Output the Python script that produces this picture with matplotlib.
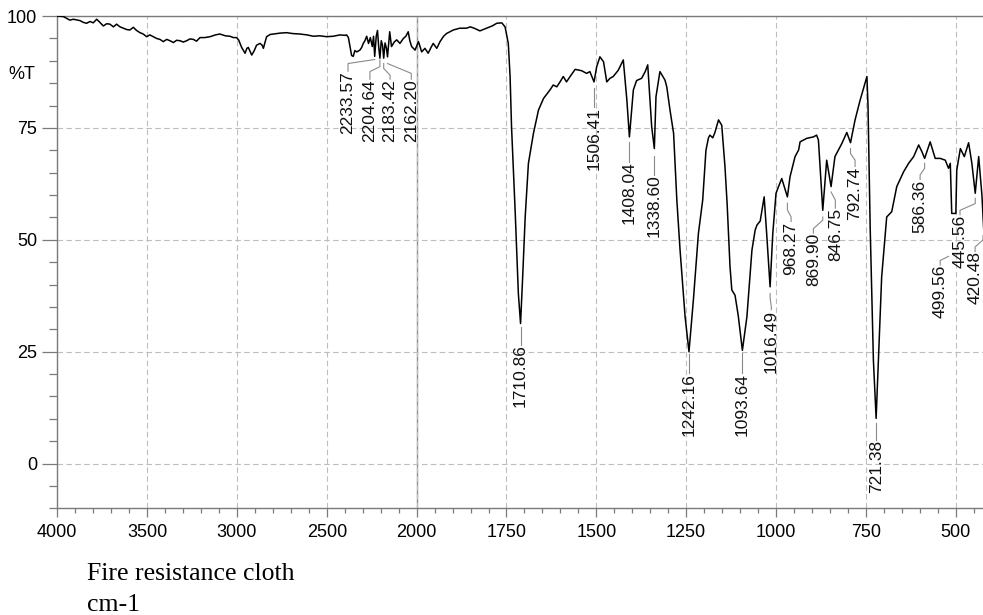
import numpy as np
import matplotlib
matplotlib.use("Agg")
import matplotlib.pyplot as plt

plt.rcParams['font.family'] = ['Liberation Sans', 'DejaVu Sans']

# spectrum (cm-1, %T)
wavenumber = [
    4000, 3966, 3948, 3930, 3911, 3874, 3855, 3837, 3818, 3800, 3781, 3763, 3744, 3725,
    3707, 3688, 3670, 3651, 3633, 3614, 3596, 3577, 3559, 3540, 3522, 3503, 3485, 3466,
    3447, 3429, 3410, 3391, 3373, 3354, 3336, 3317, 3299, 3280, 3262, 3243, 3225, 3206,
    3180, 3150, 3120, 3095, 3065, 3039, 3020, 3002, 2990, 2974, 2955, 2945, 2937, 2918,
    2905, 2891, 2872, 2860, 2853, 2845, 2835, 2815, 2798, 2760, 2724, 2690, 2650, 2610,
    2575, 2540, 2501, 2464, 2427, 2400, 2390, 2380, 2371, 2362, 2353, 2344, 2334, 2316,
    2306, 2297, 2288, 2278, 2268, 2258, 2247, 2240, 2233.6, 2225, 2218, 2211, 2204.6,
    2197, 2190, 2183.4, 2176, 2168, 2162.2, 2150, 2140, 2125, 2111, 2093, 2074, 2060,
    2047, 2038, 2028, 2009, 1995, 1986, 1977, 1968, 1960, 1954, 1944, 1935, 1925, 1917,
    1898, 1880, 1861, 1851, 1840, 1824, 1805, 1790, 1777, 1763, 1754, 1745, 1740, 1736,
    1726, 1717, 1710.9, 1705, 1698, 1689, 1675, 1661, 1647, 1629, 1620, 1610, 1601, 1592,
    1583, 1573, 1559, 1541, 1527, 1518, 1506.4, 1499, 1490, 1480, 1471, 1462, 1453, 1439,
    1425, 1415, 1408, 1397, 1388, 1374, 1364, 1357, 1346, 1338.6, 1334, 1323, 1309, 1304,
    1295, 1285, 1276, 1267, 1253, 1242.2, 1230, 1216, 1204, 1195, 1188, 1184, 1176, 1170,
    1160, 1151, 1142, 1136, 1128, 1123, 1114, 1105, 1093.6, 1081, 1067, 1058, 1053, 1044,
    1033, 1026, 1016.5, 1009, 1000, 993, 984, 968.3, 961, 947, 937, 933, 914, 896, 887,
    882, 869.9, 859, 846.8, 836, 817, 803, 792.7, 780, 766, 747, 744, 738, 729, 721.4,
    715, 706, 692, 678, 664, 645, 631, 617, 603, 594, 586.4, 571, 557, 543, 529, 520,
    515, 511, 499.6, 497, 487, 476, 464, 455, 445.6, 436, 427, 420.5,
]
transmittance = [
    100.0, 99.9, 99.5, 99.1, 99.3, 99.0, 98.6, 98.4, 98.8, 98.5, 99.3, 98.6, 97.8, 98.3,
    98.2, 97.6, 98.2, 97.6, 97.3, 97.0, 96.9, 97.5, 96.8, 96.3, 96.0, 95.4, 95.8, 95.4,
    95.0, 94.8, 94.3, 94.8, 94.5, 94.1, 94.6, 94.5, 94.2, 94.5, 94.9, 94.8, 94.4, 95.2,
    95.2, 95.4, 95.8, 96.0, 95.6, 95.5, 95.2, 95.2, 94.6, 93.0, 91.7, 92.8, 93.0, 91.3,
    92.2, 93.5, 93.9, 93.5, 92.8, 94.0, 95.4, 95.9, 96.0, 96.2, 96.3, 96.1, 96.0, 95.8,
    95.5, 95.6, 95.4, 95.5, 95.8, 95.7, 95.8, 95.2, 93.2, 91.2, 91.0, 92.3, 92.0, 92.4,
    93.0, 93.9, 94.5, 95.5, 93.9, 95.2, 93.2, 95.5, 91.0, 95.5, 96.8, 93.0, 90.6,
    94.5, 93.5, 90.6, 94.0, 92.8, 90.9, 96.5, 93.2, 94.2, 94.7, 93.9, 95.0, 95.5,
    96.5, 94.5, 93.2, 92.4, 94.3, 92.0, 92.8, 91.7, 93.0, 93.9, 92.8, 94.3, 95.5, 96.1,
    96.9, 97.3, 97.3, 97.6, 97.3, 96.7, 97.3, 97.8, 98.4, 98.5, 97.6, 93.9, 86.5, 75.3,
    56.6, 38.0, 31.3, 41.7, 55.1, 67.1, 73.8, 79.0, 81.6, 83.5, 84.6, 84.2, 85.3, 86.5,
    85.3, 86.5, 88.1, 87.8, 87.2, 87.6, 85.3, 88.7, 90.9, 89.8, 85.3, 86.1, 86.5, 87.9,
    90.2, 81.2, 73.0, 83.5, 85.6, 86.1, 87.6, 89.1, 75.3, 70.4, 82.0, 87.6, 85.7, 84.2,
    79.0, 73.8, 58.9, 47.7, 32.8, 25.0, 36.5, 51.4, 58.9, 70.0, 72.8, 73.4, 72.8, 74.0,
    76.8, 75.6, 66.3, 58.0, 44.0, 38.8, 37.6, 33.0, 25.3, 32.8, 47.7, 52.2, 53.3, 54.2,
    59.6, 51.4, 39.5, 51.4, 60.4, 61.9, 63.7, 59.6, 64.1, 68.6, 70.1, 71.9, 72.7, 73.0, 73.4,
    72.3, 56.6, 67.8, 61.9, 68.6, 71.5, 74.0, 71.7, 76.8, 81.2, 86.5, 80.0, 52.9, 23.1, 10.1,
    23.1, 41.7, 55.1, 56.3, 61.9, 65.2, 67.1, 68.6, 71.2, 69.7, 68.2, 71.9, 68.2, 68.2, 67.8, 66.0,
    67.1, 55.9, 55.9, 65.6, 70.4, 68.6, 71.7, 67.1, 60.4, 68.6, 60.0, 50.0,
]

# peak labels and their leader lines
peak_labels = ["2233.57", "2204.64", "2183.42", "2162.20", "1710.86", "1506.41", "1408.04",
               "1338.60", "1242.16", "1093.64", "1016.49", "968.27", "869.90", "846.75",
               "792.74", "721.38", "586.36", "499.56", "445.56", "420.48"]
lead_wn = [2233.57, 2204.64, 2183.42, 2162.20, 1710.86, 1506.41, 1408.04, 1338.60, 1242.16,
           1093.64, 1016.49, 968.27, 869.90, 846.75, 792.74, 721.38, 586.36, 520.0, 445.56, 424.0]
text_wn = [2382, 2260, 2148, 2030, 1710.86, 1506.41, 1408.04, 1338.60, 1242.16, 1093.64,
           1013, 958, 896, 835, 780, 721.38, 599, 543, 488, 446]
lead_y0 = [90.3, 90.2, 89.4, 89.4, 30.6, 84.0, 71.8, 68.8, 24.5, 24.8, 38.0, 58.2, 55.1, 60.7,
           70.4, 9.0, 67.1, 46.3, 59.3, 51.0]
lead_y1 = [90.3, 88.7, 88.3, 89.4, 30.6, 84.0, 71.8, 68.8, 24.5, 24.8, 37.0, 56.7, 54.4, 60.7,
           69.3, 9.0, 66.0, 46.3, 58.1, 50.0]
lead_y2 = [89.4, 87.6, 86.8, 87.2, 30.6, 84.0, 71.8, 68.8, 24.5, 24.8, 35.0, 55.1, 52.5, 58.9,
           67.8, 9.0, 64.5, 45.4, 56.6, 48.4]
text_top = [87.7, 85.9, 85.9, 85.9, 26.6, 79.6, 67.5, 64.6, 20.2, 20.2, 34.4, 54.1, 51.5, 57.1,
            66.4, 5.3, 63.5, 44.4, 55.6, 47.4]

x_major = [4000, 3500, 3000, 2500, 2000, 1750, 1500, 1250, 1000, 750, 500]
y_major = [0, 25, 50, 75, 100]


# scale changes at 2000 cm-1 (500 per division left, 250 right)
def forward(w):
    w = np.asarray(w, dtype=float)
    return np.where(w <= 2000, w / 250.0, 8.0 + (w - 2000.0) / 500.0)


def inverse(u):
    u = np.asarray(u, dtype=float)
    return np.where(u <= 8, u * 250.0, 2000.0 + (u - 8.0) * 500.0)


fig = plt.figure(figsize=(9.83, 6.15), dpi=100)
ax = fig.add_axes([0.0583, 0.1735, 0.9417, 0.8003])
ax.set_xscale('function', functions=(forward, inverse))
ax.set_xlim(4000, 424)
ax.set_ylim(-10, 100)

ax.set_xticks(x_major)
ax.set_xticklabels([str(v) for v in x_major])
x_minor = [v for v in range(3900, 2000, -100) if v % 500] + [v for v in range(1950, 420, -50) if v % 250]
ax.set_xticks(x_minor, minor=True)
ax.set_yticks(y_major)
ax.set_yticks([v for v in range(-10, 100, 5) if v % 25], minor=True)

ax.grid(True, which='major', linestyle=(0, (5, 3)), color='#bdbdbd', linewidth=0.8)
ax.axvline(2000, color='#8c8c8c', linewidth=1.0, zorder=1.5)

ax.plot(wavenumber, transmittance, color='black', linewidth=1.1, zorder=3)

for lab, lw_, tw, y0, y1, y2, yt in zip(peak_labels, lead_wn, text_wn, lead_y0, lead_y1, lead_y2, text_top):
    ax.plot([lw_, lw_, tw, tw], [y0, y1, y2, yt], color='#8a8a8a', linewidth=0.8, zorder=2)
    ax.text(tw, yt, lab, rotation=90, ha='center', va='top', fontsize=12.5, color='#111111')

for side in ['left', 'top', 'bottom']:
    ax.spines[side].set_color('#7a7a7a')
    ax.spines[side].set_linewidth(1.0)
ax.spines['right'].set_visible(False)

ax.tick_params(axis='y', which='major', length=11, width=0.9, color='#7a7a7a', pad=3.5, labelsize=13)
ax.tick_params(axis='y', which='minor', length=5.8, width=0.9, color='#7a7a7a')
ax.tick_params(axis='x', which='major', length=6.5, width=0.9, color='#7a7a7a', pad=5, labelsize=13)
ax.tick_params(axis='x', which='minor', length=3.6, width=0.9, color='#7a7a7a')

ax.annotate("%T", xy=(0, 87), xycoords=('axes fraction', 'data'), xytext=(-16, 0),
            textcoords='offset points', ha='right', va='center', fontsize=13)

fig.text(87 / 983, 1 - 580 / 615, "Fire resistance cloth", family='Liberation Serif',
         fontsize=18.5, va='baseline')
fig.text(87 / 983, 1 - 611 / 615, "cm-1", family='Liberation Serif', fontsize=18.5, va='baseline')

fig.savefig("out.png", dpi=100)
